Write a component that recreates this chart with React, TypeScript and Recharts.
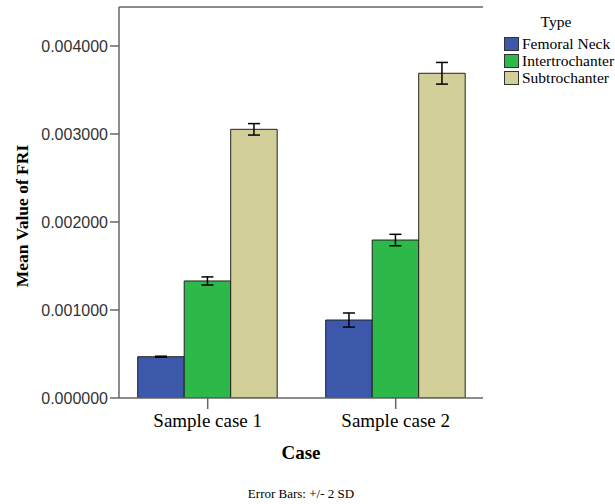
import React from "react";
import { BarChart, Bar, XAxis, YAxis, ErrorBar, Legend, Label, ReferenceLine } from "recharts";

const categories = ["Sample case 1", "Sample case 2"];
const femoralNeck = [0.000469, 0.000886];
const femoralNeckErr = [0.000006, 0.00008];
const intertrochanter = [0.00133, 0.001795];
const intertrochanterErr = [0.000046, 0.000065];
const subtrochanter = [0.003053, 0.00369];
const subtrochanterErr = [0.000065, 0.000123];
const yTicks = [0, 0.001, 0.002, 0.003, 0.004];
const yMax = 0.004443;

const seriesNames = ["Femoral Neck", "Intertrochanter", "Subtrochanter"];
const colors = ["#3D57AB", "#2DB84A", "#D3CF98"];

const data = categories.map((c, i) => ({
  name: c,
  fn: femoralNeck[i],
  fnErr: femoralNeckErr[i],
  it: intertrochanter[i],
  itErr: intertrochanterErr[i],
  st: subtrochanter[i],
  stErr: subtrochanterErr[i],
}));

const serif = "'Liberation Serif', 'Times New Roman', serif";
const sans = "'Liberation Sans', Arial, sans-serif";

const LegendContent = () => (
  <div style={{ fontFamily: serif, fontSize: 15.5, color: "#000", lineHeight: "17px" }}>
    <div style={{ textAlign: "center", width: 104, marginBottom: 5 }}>Type</div>
    {seriesNames.map((n, i) => (
      <div key={n} style={{ display: "flex", alignItems: "center", height: 17 }}>
        <div
          style={{
            width: 15,
            height: 14,
            background: colors[i],
            border: "1px solid #333",
            marginRight: 3,
            boxSizing: "border-box",
            flex: "none",
          }}
        />
        <span style={{ whiteSpace: "nowrap" }}>{n}</span>
      </div>
    ))}
  </div>
);

const YLabel = () => {
  const cy = 216;
  const cx = 22;
  return (
    <text
      x={cx}
      y={cy}
      transform={`rotate(-90, ${cx}, ${cy})`}
      textAnchor="middle"
      dominantBaseline="central"
      style={{ fill: "#000", fontSize: 17.5, fontWeight: "bold", fontFamily: serif }}
    >
      Mean Value of FRI
    </text>
  );
};

export default function App() {
  return (
    <div style={{ position: "absolute", left: 0, top: 0, width: 615, height: 504, background: "#fff" }}>
      <BarChart
        width={615}
        height={504}
        data={data}
        margin={{ top: 7, right: 132, bottom: 0, left: 0 }}
        barGap={0}
        barSize={46.5}
      >
        <XAxis
          dataKey="name"
          height={106}
          padding={{ left: -5.3, right: -6.7 }}
          axisLine={{ stroke: "#666", strokeWidth: 1.5 }}
          tickLine={{ stroke: "#666", strokeWidth: 1.5 }}
          tickSize={11}
          tickMargin={5}
          tick={{ fill: "#000", fontSize: 19, fontFamily: serif }}
        >
          <Label
            value="Case"
            position="insideBottom"
            offset={45}
            style={{ fill: "#000", fontSize: 19, fontWeight: "bold", fontFamily: serif }}
          />
          <Label
            value="Error Bars: +/- 2 SD"
            position="insideBottom"
            offset={6}
            style={{ fill: "#000", fontSize: 13, fontFamily: serif }}
          />
        </XAxis>
        <YAxis
          width={119}
          domain={[0, yMax]}
          ticks={yTicks}
          allowDataOverflow
          tickFormatter={(v: number) => v.toFixed(6)}
          axisLine={{ stroke: "#666", strokeWidth: 1.5 }}
          tickLine={{ stroke: "#666", strokeWidth: 1.5 }}
          tickSize={9}
          tickMargin={2}
          tick={{ fill: "#333", fontSize: 16, fontFamily: sans }}
        >
          <Label content={YLabel} position="insideLeft" />
        </YAxis>
        <YAxis
          yAxisId="right"
          orientation="right"
          width={0}
          tick={false}
          tickLine={false}
          axisLine={{ stroke: "#666", strokeWidth: 1.5 }}
        />
        <ReferenceLine y={yMax} stroke="#666" strokeWidth={1.5} ifOverflow="extendDomain" />
        <Legend
          layout="vertical"
          align="center"
          verticalAlign="middle"
          wrapperStyle={{ position: "absolute", left: 504, top: 13, width: 111 }}
          content={LegendContent}
        />
        <Bar dataKey="fn" name={seriesNames[0]} fill={colors[0]} stroke="#222" strokeWidth={1} isAnimationActive={false}>
          <ErrorBar dataKey="fnErr" width={6} stroke="#000" strokeWidth={1.5} />
        </Bar>
        <Bar dataKey="it" name={seriesNames[1]} fill={colors[1]} stroke="#222" strokeWidth={1} isAnimationActive={false}>
          <ErrorBar dataKey="itErr" width={6} stroke="#000" strokeWidth={1.5} />
        </Bar>
        <Bar dataKey="st" name={seriesNames[2]} fill={colors[2]} stroke="#222" strokeWidth={1} isAnimationActive={false}>
          <ErrorBar dataKey="stErr" width={6} stroke="#000" strokeWidth={1.5} />
        </Bar>
      </BarChart>
    </div>
  );
}
